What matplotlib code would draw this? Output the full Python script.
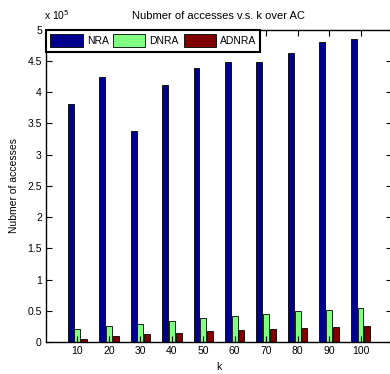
import numpy as np
import matplotlib
matplotlib.use('Agg')
import matplotlib.pyplot as plt

plt.rcParams['font.family'] = ['Liberation Sans', 'DejaVu Sans']

# values (number of accesses)
k = [10, 20, 30, 40, 50, 60, 70, 80, 90, 100]
nra = [3.81e5, 4.24e5, 3.38e5, 4.11e5, 4.38e5, 4.49e5, 4.49e5, 4.62e5, 4.80e5, 4.85e5]
dnra = [0.20e5, 0.26e5, 0.29e5, 0.33e5, 0.38e5, 0.42e5, 0.45e5, 0.49e5, 0.52e5, 0.54e5]
adnra = [0.05e5, 0.09e5, 0.12e5, 0.15e5, 0.18e5, 0.19e5, 0.21e5, 0.22e5, 0.24e5, 0.25e5]
series_names = ['NRA', 'DNRA', 'ADNRA']
colors = ['#00008F', '#80FF80', '#800000']

scale = 1e5
x = np.array(k)
w = 1.9
offsets = [-2.15, 0, 2.15]

fig = plt.figure(figsize=(3.9, 3.74), dpi=100)
ax = fig.add_axes([0.118, 0.0856, 0.887, 0.835])

for vals, name, c, off in zip([nra, dnra, adnra], series_names, colors, offsets):
    ax.bar(x + off, np.array(vals) / scale, width=w, color=c, edgecolor='black',
           linewidth=0.6, label=name)

ax.set_xlim(0, 110)
ax.set_ylim(0, 5)
ax.set_xticks(k)
ax.set_yticks(np.arange(0, 5.01, 0.5))
ax.set_yticklabels(['0', '0.5', '1', '1.5', '2', '2.5', '3', '3.5', '4', '4.5', '5'])
ax.tick_params(direction='in', length=4, width=0.8, labelsize=7.5, top=True, right=True, pad=3)
for s in ax.spines.values():
    s.set_linewidth(1.0)

ax.set_xlabel('k', fontsize=7.5, labelpad=4)
ax.set_ylabel('Nubmer of accesses', fontsize=7.5, labelpad=6)
ax.set_title('Nubmer of accesses v.s. k over AC', fontsize=8, pad=8)
ax.text(-0.005, 1.025, 'x 10$^{5}$', transform=ax.transAxes, fontsize=7.5, ha='left', va='bottom')

leg = ax.legend(loc='upper left', bbox_to_anchor=(0, 1), ncol=3, borderaxespad=0,
                fancybox=False, framealpha=1, edgecolor='black', fontsize=7.5,
                handlelength=3.1, handleheight=1.56, columnspacing=0.45, handletextpad=0.38,
                borderpad=0.42)
leg.get_frame().set_linewidth(1.5)

fig.savefig('out.png', dpi=100)
